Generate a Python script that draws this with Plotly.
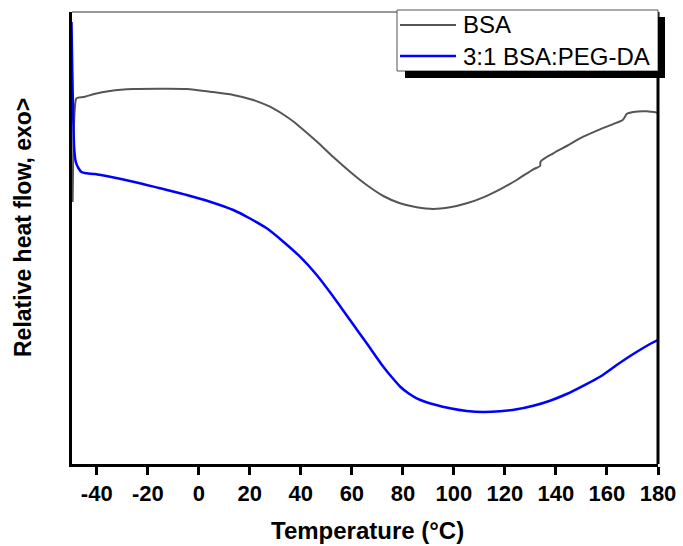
import plotly.graph_objects as go

# DSC traces: temperature (°C) and relative heat flow (a.u., exo up)
bsa_temp = [-49.45, -49.3, -49.1, -48.7, -48.23, -47.84, -44.59, -41.0, -34.79,
            -25.65, -15.19, -4.73, 4.41, 13.54, 21.38, 27.92, 33.14, 37.06, 39.68,
            46.23, 52.73, 59.28, 65.82, 72.33, 78.88, 85.42, 91.93,
            98.47, 105.02, 111.52, 118.07, 124.61, 131.12, 133.75, 134.0, 138.96,
            144.21, 150.72, 157.27, 163.81, 166.16, 167.0, 167.73, 170.32, 175.57,
            179.9]
bsa_flow = [2.62, 2.94, 3.24, 3.52, 3.64, 3.66, 3.673, 3.70, 3.73,
            3.75, 3.753, 3.75, 3.723, 3.69, 3.64, 3.573, 3.495, 3.425, 3.37,
            3.225, 3.07, 2.923, 2.79, 2.68, 2.607, 2.567, 2.55,
            2.567, 2.607, 2.667, 2.747, 2.84, 2.947, 2.98, 3.025, 3.107,
            3.18, 3.273, 3.347, 3.413, 3.44, 3.47, 3.50, 3.52, 3.527,
            3.513]

blend_temp = [-49.9, -49.6, -49.2, -48.8, -48.2, -47.2, -46.0, -43.9, -40.7,
              -34.79, -25.65, -15.19, -4.73, 4.41, 13.54, 20.08, 26.63, 33.14,
              39.68, 46.23, 52.73, 59.28, 65.82, 72.33, 75.6, 78.88, 82.15,
              85.42, 88.7, 91.93, 98.47, 105.02, 111.52, 118.07, 124.61, 131.12,
              137.67, 144.21, 150.72, 157.27, 163.81, 170.32, 176.86, 179.9]
blend_flow = [4.42, 3.94, 3.44, 3.14, 3.02, 2.96, 2.92, 2.907, 2.90,
              2.873, 2.823, 2.757, 2.69, 2.623, 2.54, 2.455, 2.357, 2.223,
              2.073, 1.89, 1.673, 1.44, 1.207, 0.973, 0.87, 0.775, 0.707,
              0.657, 0.623, 0.598, 0.557, 0.53, 0.52, 0.527, 0.547, 0.583,
              0.633, 0.70, 0.783, 0.873, 0.99, 1.10, 1.20, 1.24]

x_ticks = [-40, -20, 0, 20, 40, 60, 80, 100, 120, 140, 160, 180]
series_names = ["BSA", "3:1 BSA:PEG-DA"]
series_colors = ["#555555", "#0000ff"]

FONT = "Liberation Sans, Arial, sans-serif"

fig = go.Figure()
fig.add_trace(go.Scatter(x=bsa_temp, y=bsa_flow, mode="lines", name=series_names[0],
                         line=dict(color=series_colors[0], width=2, shape="spline", smoothing=0.8)))
fig.add_trace(go.Scatter(x=blend_temp, y=blend_flow, mode="lines", name=series_names[1],
                         line=dict(color=series_colors[1], width=2.5, shape="spline", smoothing=0.8)))

# plot-area size in pixels, used to place the boxed legend in paper units
L, R, T, B = 72, 25, 12, 82
W, H = 683, 546
pw, ph = W - L - R, H - T - B


def px(xp):
    return (xp - L) / pw


def py(yp):
    return (H - B - yp) / ph


def seg(x0, y0, x1, y1, color, width):
    return dict(type="line", xref="paper", yref="paper",
                x0=px(x0), y0=py(y0), x1=px(x1), y1=py(y1),
                line=dict(color=color, width=width), layer="above")


shapes = [
    # thin top frame and heavy right frame
    dict(type="line", xref="paper", yref="paper", x0=0, x1=1, y0=1, y1=1,
         line=dict(color="#333333", width=1), layer="above"),
    dict(type="line", xref="paper", yref="paper", x0=1, x1=1, y0=0, y1=1,
         line=dict(color="black", width=3), layer="above"),
    # legend box
    dict(type="rect", xref="paper", yref="paper",
         x0=px(397), x1=px(658), y0=py(71), y1=py(10),
         fillcolor="white", line=dict(color="#555555", width=1), layer="above"),
    # drop shadow along the legend's right and bottom edges
    seg(661.5, 17, 661.5, 78, "black", 7),
    seg(405, 74.5, 665, 74.5, "black", 7),
]
annotations = []
for i, (name, color) in enumerate(zip(series_names, series_colors)):
    yy = 25 + 31 * i
    shapes.append(seg(400, yy, 456, yy, color, 2.5 if i else 2))
    annotations.append(dict(text=name, xref="paper", yref="paper", x=px(461), y=py(yy),
                            xanchor="left", yanchor="middle", showarrow=False,
                            font=dict(family=FONT, size=24, color="black")))

annotations.append(dict(text="Temperature (°C)", xref="paper", yref="paper",
                        x=px(367), y=py(530), xanchor="center", yanchor="middle",
                        showarrow=False,
                        font=dict(family=FONT, size=24, color="black", weight="bold")))
annotations.append(dict(text="Relative heat flow, exo>", xref="paper", yref="paper",
                        x=px(23), y=py(228), xanchor="center", yanchor="middle",
                        textangle=-90, showarrow=False,
                        font=dict(family=FONT, size=23, color="black", weight="bold")))

fig.update_layout(
    width=W, height=H,
    margin=dict(l=L, r=R, t=T, b=B, pad=0),
    paper_bgcolor="white", plot_bgcolor="white",
    showlegend=False,
    shapes=shapes, annotations=annotations,
    xaxis=dict(range=[-49.7, 180], tickvals=x_ticks, ticktext=[str(t) for t in x_ticks],
               ticks="outside", ticklen=8, tickwidth=3, tickcolor="black",
               showline=True, linewidth=3, linecolor="black",
               showgrid=False, zeroline=False, automargin=False,
               tickfont=dict(family=FONT, size=22, color="black", weight="bold")),
    yaxis=dict(range=[0, 4.52], showticklabels=False, ticks="",
               showline=True, linewidth=3, linecolor="black",
               showgrid=False, zeroline=False, automargin=False),
)

fig.write_html("out.html")
